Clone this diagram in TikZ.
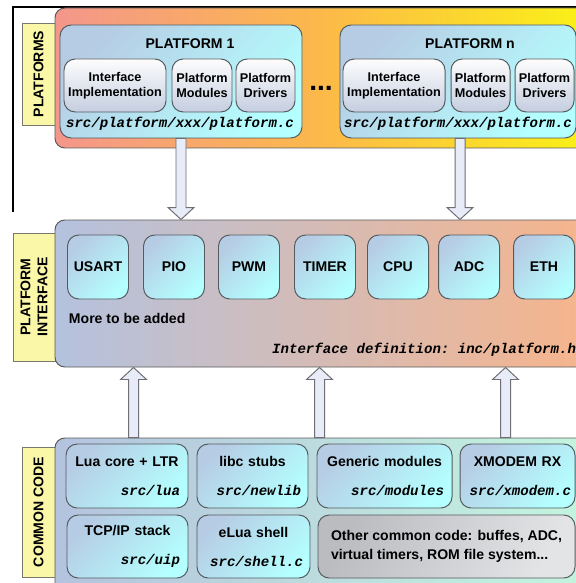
\documentclass[tikz,border=0pt]{standalone}
\usepackage{fontspec}
\setmainfont{Liberation Sans}
\setmonofont{Liberation Mono}
\usetikzlibrary{calc}

\definecolor{tagyellow}{RGB}{250,248,168}
\definecolor{tagline}{RGB}{120,120,110}
\definecolor{layerline}{RGB}{90,90,90}
\definecolor{unitline}{RGB}{85,90,95}
\definecolor{unitblue}{RGB}{182,204,228}
\definecolor{unitcyan}{RGB}{180,255,255}
\definecolor{partwhite}{RGB}{253,253,253}
\definecolor{partgray}{RGB}{196,206,224}
\definecolor{platred}{RGB}{244,150,140}
\definecolor{platorange}{RGB}{252,186,72}
\definecolor{platyellow}{RGB}{250,244,20}
\definecolor{ifblue}{RGB}{180,194,222}
\definecolor{ifpeach}{RGB}{248,180,138}
\definecolor{ccblue}{RGB}{180,195,222}
\definecolor{ccmint}{RGB}{196,246,222}
\definecolor{othergray}{RGB}{186,188,192}
\definecolor{otherlight}{RGB}{226,228,230}
\definecolor{arrfill}{RGB}{232,236,248}
\definecolor{arrline}{RGB}{110,110,115}

\newcommand{\srcname}[1]{{\ttfamily\itshape #1}}

\begin{document}
\begin{tikzpicture}[
  x=0.025cm, y=-0.025cm,
  every node/.style={font=\bfseries\fontsize{10}{12}\selectfont},
  sz/.style 2 args={minimum width=#1*0.025cm, minimum height=#2*0.025cm, inner sep=0pt},
  tw/.style={text width=#1*0.025cm},
  tag/.style={draw=tagline, fill=tagyellow, line width=0.6pt, rotate=90, align=center},
  layer/.style={draw=layerline, line width=0.7pt, rounded corners=7pt},
  unit/.style={draw=unitline, line width=0.7pt, rounded corners=8pt, left color=unitblue, right color=unitcyan, shading angle=45, align=center},
  part/.style={draw=unitline, line width=0.7pt, rounded corners=8pt, top color=partwhite, bottom color=partgray, align=center, font=\bfseries\fontsize{9}{10.5}\selectfont},
  other/.style={unit, left color=othergray, right color=otherlight, shading angle=60, align=left, font=\bfseries\fontsize{10}{14}\selectfont},
  srcpath/.style={font=\ttfamily\bfseries\itshape\fontsize{10}{12}\selectfont},
  blockarr/.style={draw=arrline, fill=arrfill, line width=0.7pt, line join=miter}
]
\useasboundingbox (0,0) rectangle (576,583);
\clip (0,0) rectangle (576,583);

% frame of the screenshot
\draw[black, line width=0.8pt] (13,212) -- (13,7) -- (576,7);

% Top: platforms
\node[tag, sz={102}{33}] (ptag) at (38.5,74) {PLATFORMS};
\node[layer, sz={545}{140}, left color=platred, right color=platyellow, middle color=platorange] (plat) at (327.5,78) {};

\node[unit, sz={242}{113}] (p1) at (181,81.5) {};
\node (p1t) at (190,44) {PLATFORM 1};
\node[part, sz={102}{53}] (p1ii) at (115,85.5) {Interface\\Implementation};
\node[part, sz={60}{53}] (p1mod) at (202,85.5) {Platform\\Modules};
\node[part, sz={59}{53}] (p1drv) at (265.5,85.5) {Platform\\Drivers};
\node[srcpath] (p1src) at (180,124) {src/platform/xxx/platform.c};

\node (dots) at (321,88) {\fontsize{20}{20}\selectfont ...};

\node[unit, sz={236}{113}] (pn) at (458,81.5) {};
\node (pnt) at (470,44) {PLATFORM n};
\node[part, sz={102}{53}] (pnii) at (394,85.5) {Interface\\Implementation};
\node[part, sz={59}{53}] (pnmod) at (480.5,85.5) {Platform\\Modules};
\node[part, sz={59}{53}] (pndrv) at (544.5,85.5) {Platform\\Drivers};
\node[srcpath] (pnsrc) at (458,124) {src/platform/xxx/platform.c};

% Middle: platform interface
\node[tag, sz={128}{42}] (itag) at (34,297) {PLATFORM\\INTERFACE};
\node[layer, sz={545}{147}, left color=ifblue, right color=ifpeach] (pif) at (327.5,293.5) {};

\node[unit, sz={61}{64}] (usart) at (98,267)  {USART};
\node[unit, sz={61}{64}] (pio)   at (174,267) {PIO};
\node[unit, sz={61}{64}] (pwm)   at (249,267) {PWM};
\node[unit, sz={61}{64}] (timer) at (325,267) {TIMER};
\node[unit, sz={61}{64}] (cpu)   at (398,267) {CPU};
\node[unit, sz={61}{64}] (adc)   at (469,267) {ADC};
\node[unit, sz={61}{64}] (eth)   at (544,267) {ETH};

\node[anchor=west] (more) at (64,318) {More to be added};
\node[srcpath, anchor=east] (ifdef) at (581,350) {Interface definition: inc/platform.h};

% Bottom: common code
\node[tag, sz={130}{33}] (ctag) at (38.5,512) {COMMON CODE};
\node[layer, sz={545}{162}, left color=ccblue, right color=ccmint] (cc) at (327.5,519) {};

\node[unit, sz={122}{64}, tw=106] (lua)   at (127,476)   {Lua core + LTR\\[8.6pt]\hfill\srcname{src/lua}};
\node[unit, sz={111}{64}, tw=97]  (libc)  at (252.5,476) {libc stubs\\[8.6pt]\hfill\srcname{src/newlib}};
\node[unit, sz={135}{64}, tw=119] (gen)   at (384.5,476) {Generic modules\\[8.6pt]\hfill\srcname{src/modules}};
\node[unit, sz={115}{64}, tw=107] (xmod)  at (517.5,476) {XMODEM RX\\[8.6pt]\hfill\srcname{src/xmodem.c}};
\node[unit, sz={121}{63}, tw=105] (tcp)   at (127.5,546.5) {TCP/IP stack\\[8.6pt]\hfill\srcname{src/uip}};
\node[unit, sz={113}{63}, tw=99]  (shell) at (253.5,546.5) {eLua shell\\[8.6pt]\hfill\srcname{src/shell.c}};
\node[other, sz={257}{63}] (misc) at (446.5,546.5) {Other common code: buffes, ADC,\\virtual timers, ROM file system...};

% Block arrows: platforms -> interface
\coordinate (d1) at (p1.south |- pif.north);
\coordinate (d2) at ($(pn.south |- pif.north)+(2,0)$);
\coordinate (s2) at ($(pn.south)+(2,0)$);
\draw[blockarr] ($(p1.south)+(-5,0)$) -- ($(d1)+(-5,-12)$) -- ($(d1)+(-13,-12)$) -- (d1)
  -- ($(d1)+(13,-12)$) -- ($(d1)+(5,-12)$) -- ($(p1.south)+(5,0)$) -- cycle;
\draw[blockarr] ($(s2)+(-5,0)$) -- ($(d2)+(-5,-12)$) -- ($(d2)+(-13,-12)$) -- (d2)
  -- ($(d2)+(13,-12)$) -- ($(d2)+(5,-12)$) -- ($(s2)+(5,0)$) -- cycle;

% Block arrows: common code -> interface
\coordinate (u1) at ($(cc.north west)+(79,0)$);
\coordinate (u2) at ($(cc.north west)+(265,0)$);
\coordinate (u3) at ($(cc.north west)+(451,0)$);
\coordinate (t1) at (u1 |- pif.south);
\coordinate (t2) at (u2 |- pif.south);
\coordinate (t3) at (u3 |- pif.south);
\draw[blockarr] ($(u1)+(-5,0)$) -- ($(t1)+(-5,12)$) -- ($(t1)+(-13,12)$) -- (t1)
  -- ($(t1)+(13,12)$) -- ($(t1)+(5,12)$) -- ($(u1)+(5,0)$) -- cycle;
\draw[blockarr] ($(u2)+(-5,0)$) -- ($(t2)+(-5,12)$) -- ($(t2)+(-13,12)$) -- (t2)
  -- ($(t2)+(13,12)$) -- ($(t2)+(5,12)$) -- ($(u2)+(5,0)$) -- cycle;
\draw[blockarr] ($(u3)+(-5,0)$) -- ($(t3)+(-5,12)$) -- ($(t3)+(-13,12)$) -- (t3)
  -- ($(t3)+(13,12)$) -- ($(t3)+(5,12)$) -- ($(u3)+(5,0)$) -- cycle;

\end{tikzpicture}
\end{document}
